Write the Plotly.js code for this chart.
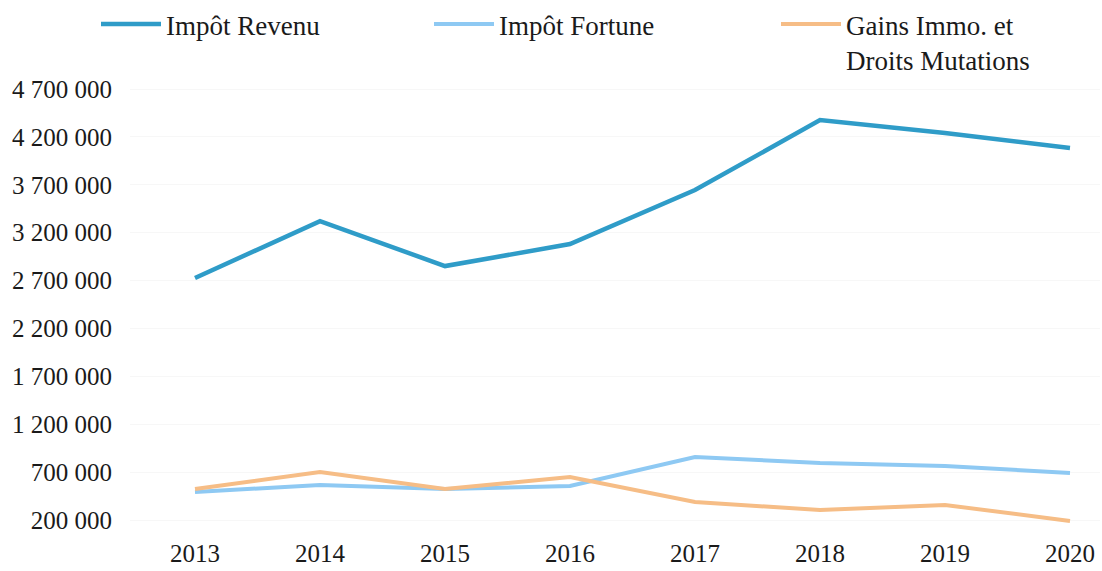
<!DOCTYPE html>
<html>
<head>
<meta charset="utf-8">
<script src="https://cdn.plot.ly/plotly-3.0.1.min.js"></script>
<style>html,body{margin:0;padding:0;background:#fff;}#chart{width:1102px;height:571px;}</style>
</head>
<body>
<div id="chart"></div>
<script>
const years = [2013, 2014, 2015, 2016, 2017, 2018, 2019, 2020];
const impotRevenu = [2726000, 3321000, 2851000, 3081000, 3645000, 4375000, 4240000, 4083000];
const impotFortune = [492000, 565000, 524000, 555000, 858000, 795000, 764000, 691000];
const gainsImmo = [524000, 701000, 524000, 649000, 388000, 304000, 357000, 190000];
const seriesNames = ['Impôt Revenu', 'Impôt Fortune', 'Gains Immo. et<br>Droits Mutations'];
const yTicks = [200000, 700000, 1200000, 1700000, 2200000, 2700000, 3200000, 3700000, 4200000, 4700000];
const yTickLabels = ['200 000', '700 000', '1 200 000', '1 700 000', '2 200 000', '2 700 000', '3 200 000', '3 700 000', '4 200 000', '4 700 000'];

const fam = 'Liberation Serif, Times New Roman, serif';
const tickFont = {family: fam, size: 25, color: '#1a1a1a'};
const legFont = {family: fam, size: 27, color: '#1a1a1a'};

const traces = [
  {x: years, y: impotRevenu, name: seriesNames[0], mode: 'lines', line: {color: '#2f9cc8', width: 4.5}, legend: 'legend'},
  {x: years, y: impotFortune, name: seriesNames[1], mode: 'lines', line: {color: '#8ec9f3', width: 4}, legend: 'legend2'},
  {x: years, y: gainsImmo, name: seriesNames[2], mode: 'lines', line: {color: '#f6bd86', width: 4}, legend: 'legend3'}
];

function leg(xpx) {
  return {
    orientation: 'h', xref: 'container', yref: 'container',
    x: xpx / 1102, y: 1.0, xanchor: 'left', yanchor: 'top',
    valign: 'top', font: legFont, bgcolor: 'rgba(0,0,0,0)', itemwidth: 60
  };
}

const layout = {
  width: 1102, height: 571,
  margin: {l: 130, r: 2, t: 85, b: 41},
  paper_bgcolor: '#fff', plot_bgcolor: '#fff',
  font: tickFont,
  showlegend: true,
  legend: leg(96),
  legend2: leg(429),
  legend3: leg(776),
  xaxis: {
    range: [2012.48, 2020.24], tickmode: 'array', tickvals: years, ticktext: years.map(String),
    showgrid: false, zeroline: false, showline: false, ticks: '', ticklabelstandoff: 6,
    tickfont: tickFont
  },
  yaxis: {
    range: [95600, 4741760], tickmode: 'array', tickvals: yTicks, ticktext: yTickLabels,
    showgrid: true, gridcolor: '#f7f7f7', gridwidth: 1, zeroline: false, showline: false, ticks: '',
    ticklabelstandoff: 17, tickfont: tickFont
  }
};

Plotly.newPlot('chart', traces, layout, {displayModeBar: false, staticPlot: true});
</script>
</body>
</html>
